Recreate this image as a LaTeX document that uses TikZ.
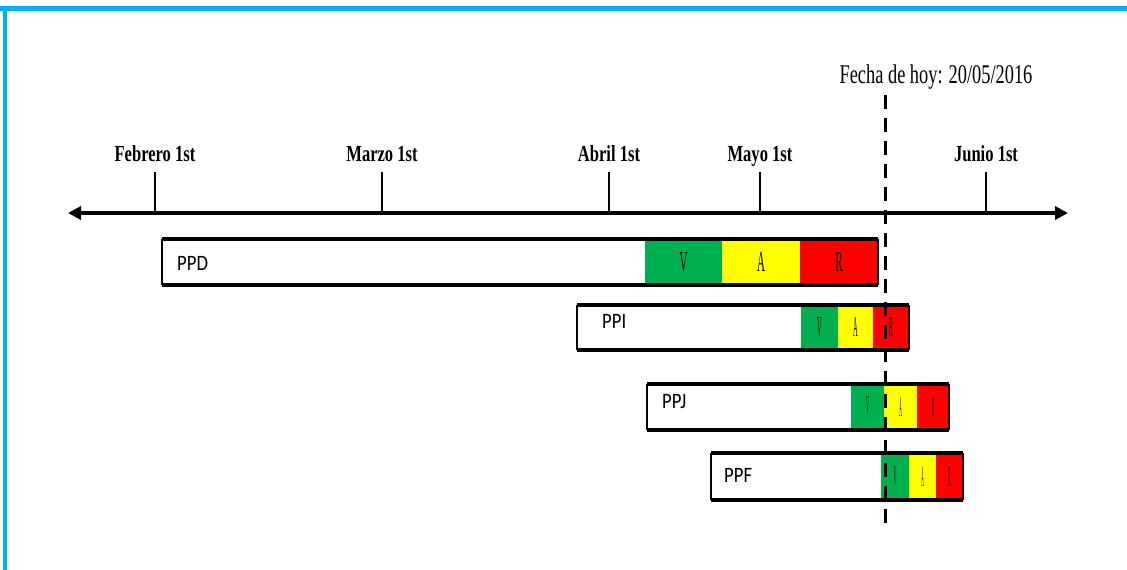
\documentclass[tikz,border=0pt]{standalone}
\usepackage{fontspec}
\usepackage{graphicx}
\setmainfont{Liberation Serif}
\newfontfamily\barfont{Carlito}
\usetikzlibrary{arrows.meta}
\definecolor{frameblue}{HTML}{00B0F0}
\definecolor{vgreen}{HTML}{00B050}
\definecolor{ayellow}{HTML}{FFFF00}
\definecolor{rred}{HTML}{FF0000}
% horizontally condensed text
\newcommand{\narrow}[2]{\scalebox{#1}[1]{#2}}
% one bar: name, start, green, yellow, red, end, top, bottom, letter squeeze
\newcommand{\ganttbar}[9]{%
  \node[seg, fill=white, minimum width={(#3-#2)*1pt}, minimum height={(#8-#7)*1pt}] (#1) at (#2,#7) {};
  \node[seg, fill=vgreen, minimum width={(#4-#3)*1pt}, minimum height={(#8-#7)*1pt}] (#1-v) at (#3,#7) {\narrow{#9}{V}};
  \node[seg, fill=ayellow, minimum width={(#5-#4)*1pt}, minimum height={(#8-#7)*1pt}] (#1-a) at (#4,#7) {\narrow{#9}{A}};
  \node[seg, fill=rred, minimum width={(#6-#5)*1pt}, minimum height={(#8-#7)*1pt}] (#1-r) at (#5,#7) {\narrow{#9}{R}};
  \draw[barside] (#2,#7) -- (#2,#8);
  \draw[barside] (#6,#7) -- (#6,#8);
  \draw[baredge] (#2,#7) -- (#6,#7);
  \draw[baredge] (#2,#8) -- (#6,#8);
}
\begin{document}
\begin{tikzpicture}[x=1pt,y=-1pt,
  seg/.style={anchor=north west, inner sep=0pt, outer sep=0pt, draw=none,
    font=\fontsize{29}{29}\selectfont},
  barside/.style={line width=1.5pt},
  baredge/.style={line width=4pt},
  axlab/.style={anchor=base, inner sep=0pt, font=\fontsize{23}{23}\selectfont\bfseries},
  todaylab/.style={anchor=base, inner sep=0pt, font=\fontsize{27}{27}\selectfont},
  barlab/.style={anchor=west, inner sep=0pt, font=\barfont\fontsize{22}{22}\selectfont},
  tickline/.style={line width=2pt},
  timeaxis/.style={line width=3.5pt, {Triangle[length=13pt,width=13pt]}-{Triangle[length=13pt,width=13pt]}},
  todayline/.style={line width=3pt, dash pattern=on 14pt off 9pt}]
\useasboundingbox (0,0) rectangle (1127,570);

% frame
\fill[frameblue] (0,6) rectangle (1127,11);
\fill[frameblue] (3,6) rectangle (7,570);

% time axis
\coordinate (axL) at (68,213);
\coordinate (axR) at (1068,213);
\draw[timeaxis] (axL) -- (axR);

% month ticks and labels
\foreach \nm/\x/\txt in {feb/155/Febrero 1st, mar/382/Marzo 1st, abr/609/Abril 1st, may/760/Mayo 1st, jun/986/Junio 1st}{
  \coordinate (t-\nm) at (\x,213);
  \draw[tickline] (t-\nm) -- ++(0,-41);
  \node[axlab] (l-\nm) at (\x,161) {\narrow{0.72}{\txt}};
}

% bars
\ganttbar{PPD}{162}{645}{722}{800}{878}{239}{284.5}{0.38}
\ganttbar{PPI}{577}{801}{838}{873}{909}{304.5}{350}{0.22}
\ganttbar{PPJ}{647}{851}{884}{917}{949}{383.5}{429.5}{0.12}
\ganttbar{PPF}{711}{881}{909}{936}{963}{453}{500}{0.12}

\node[barlab] (lab-PPD) at (177,263) {\narrow{0.85}{PPD}};
\node[barlab] (lab-PPI) at (602,321) {\narrow{0.85}{PPI}};
\node[barlab] (lab-PPJ) at (662,402) {\narrow{0.85}{PPJ}};
\node[barlab] (lab-PPF) at (724,475) {\narrow{0.85}{PPF}};

% today marker
\node[todaylab] (today) at (936,83) {\narrow{0.68}{Fecha de hoy: 20/05/2016}};
\coordinate (dTop) at (885,95);
\coordinate (dBot) at (885,530);
\draw[todayline] (dTop) -- (dBot);
\end{tikzpicture}
\end{document}
